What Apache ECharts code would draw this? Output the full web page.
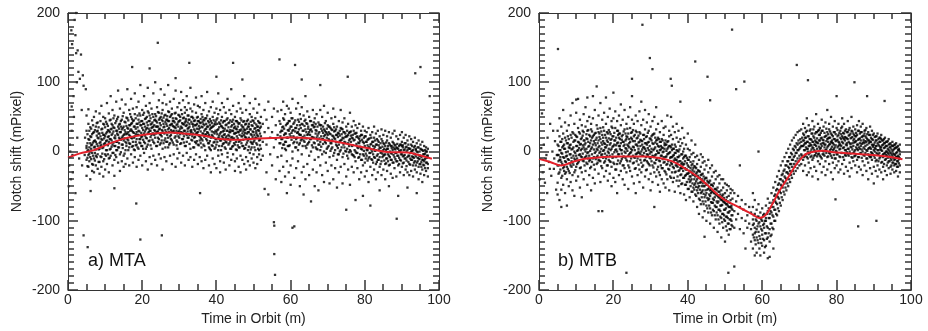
<!DOCTYPE html>
<html><head><meta charset="utf-8">
<script src="https://cdn.jsdelivr.net/npm/echarts@6/dist/echarts.min.js"></script>
<style>html,body{margin:0;padding:0;background:#fff}#c{width:928px;height:331px}</style>
</head><body><div id="c"></div>
<script>
const panelLabels = ['a) MTA', 'b) MTB'];
const xName = 'Time in Orbit (m)';
const yName = 'Notch shift (mPixel)';
const xRange = [0, 100];
const yRange = [-200, 200];
const xMajorTicks = [0, 20, 40, 60, 80, 100];
const xMinorTicks = [5, 10, 15, 25, 30, 35, 45, 50, 55, 65, 70, 75, 85, 90, 95];
const yMajorTicks = [-200, -100, 0, 100, 200];
const yMinorTicks = [-190,-180,-170,-160,-150,-140,-130,-120,-110,-90,-80,-70,-60,-50,-40,-30,-20,-10,10,20,30,40,50,60,70,80,90,110,120,130,140,150,160,170,180,190];

// red fitted curves [x, y]
const mtaFit = [[0,-9],[3,-3],[7,2],[10,9],[13,15],[16,20],[20,24],[24,26.5],[27.6,27.5],[31,26],[34,24.5],[37.5,22],[41,18],[45.5,17],[50,18.5],[55,19.5],[60,20.4],[66,19],[70,16],[73.4,13],[77,9],[80.6,5],[85,0],[88,-1],[91.4,-1.5],[95,-5.7],[98.1,-10.5]];
const mtbFit = [[0,-10.5],[3,-15],[6,-20],[9,-15],[12.3,-10.5],[16,-8.5],[21,-7],[28.4,-7],[32,-9],[34.6,-12],[37,-17],[39.1,-24],[41.5,-32],[43.6,-40.5],[46,-52],[48,-62],[50,-70],[52.1,-76],[55,-84],[57.5,-91],[59.3,-96],[61,-91],[62.8,-75],[64.6,-57],[67,-37],[69.1,-19],[71,-7],[72.2,-2.4],[74,0],[76.3,1],[79.9,-1.5],[85,-3],[89.7,-5],[94,-7.5],[97.7,-11]];

// scatter columns: [x, y1, y2, ...]
const mtaCols = [
[5.0,5,-12,30,8,-35,52],[5.5,18,-5,40,-22,2,61],[6.0,-8,22,12,-40,35,0],[6.5,10,-18,45,25,-2,-28],[7.0,28,-10,6,50,-30,15],[7.5,3,36,-20,14,58,-6],[8.0,20,-25,42,8,-4,30],[8.5,-15,12,55,26,-32,4],[9.0,32,-8,18,66,-22,10],[9.5,6,40,-14,24,-36,50],
[10.0,22,-4,48,12,-26,35],[10.5,40,2,-18,28,70,16],[11.0,-10,30,14,55,-30,22],[11.5,18,46,-6,32,4,80],[12.0,26,-20,38,10,60,-2],[12.5,8,34,-12,52,20,-35],[13.0,44,14,-8,30,72,2],[13.5,24,-16,50,6,36,88],[14.0,-4,40,18,62,28,-28],[14.5,32,10,-14,46,20,75],
[15.0,16,56,-6,36,24,-22],[15.5,42,2,28,68,-18,14],[16.0,26,-10,48,18,90,34],[16.5,6,38,60,-20,24,12],[17.0,50,20,-4,32,76,40],[17.5,14,44,-16,28,62,8],[18.0,36,-8,54,22,2,84],[18.5,28,64,10,-22,40,18],[19.0,46,4,30,72,-12,24],[19.5,18,52,-6,38,96,12],
[20.0,34,8,60,22,-20,44],[20.5,56,26,-2,40,80,14],[21.0,20,48,-14,32,66,4],[21.5,38,10,58,26,-26,92],[22.0,44,16,-8,30,70,52],[22.5,24,62,4,40,-18,34],[23.0,50,14,36,84,-6,26],[23.5,30,-12,54,20,46,100],[24.0,42,8,64,28,-20,36],[24.5,18,56,32,74,-4,46],
[25.0,38,-10,50,24,90,12],[25.5,60,30,4,44,-26,70],[26.0,26,52,-8,36,82,16],[26.5,46,14,68,28,-14,40],[27.0,32,58,6,44,96,20],[27.5,50,22,-6,38,72,12],[28.0,28,62,40,-18,54,16],[28.5,44,10,76,30,-4,36],[29.0,22,56,34,88,-22,48],[29.5,40,4,64,26,14,-10],
[30.0,52,30,-2,70,20,44],[30.5,36,12,60,-16,28,86],[31.0,18,48,26,74,-6,40],[31.5,42,8,56,30,-20,64],[32.0,24,60,38,-2,80,14],[32.5,46,20,-12,52,34,70],[33.0,30,4,62,26,92,-8],[33.5,50,16,40,-22,58,22],[34.0,20,44,6,68,32,-12],[34.5,38,-4,56,26,78,12],
[35.0,28,50,10,-18,44,66],[35.5,42,16,64,22,-8,34],[36.0,18,54,36,-14,80,6],[36.5,40,10,60,26,-24,46],[37.0,24,48,2,70,32,-12],[37.5,36,-6,52,16,86,28],[38.0,12,42,58,24,-20,6],[38.5,34,2,64,20,44,-30],[39.0,22,50,-10,36,72,8],[39.5,40,14,-18,56,26,4],
[40.0,10,46,28,-24,62,18],[40.5,32,-6,54,20,84,2],[41.0,16,40,-14,60,26,-30],[41.5,36,8,50,-4,22,70],[42.0,24,-16,44,12,64,30],[42.5,4,38,20,-26,56,14],[43.0,30,-8,48,18,76,-2],[43.5,12,42,-20,28,60,22],[44.0,36,4,54,-12,20,90],[44.5,18,46,-4,30,66,8],
[45.0,-14,26,50,10,36,-28],[45.5,32,2,58,22,-10,44],[46.0,14,40,-22,28,70,6],[46.5,30,-6,48,16,-30,62],[47.0,8,36,22,56,-12,26],[47.5,24,-18,44,4,80,32],[48.0,40,10,-8,60,20,-26],[48.5,16,46,28,-14,36,2],[49.0,32,-2,54,18,70,-20],[49.5,6,38,24,-10,50,12],
[50.0,28,-16,44,14,62,-4],[50.5,20,48,2,34,-24,76],[51.0,10,36,-8,56,24,-18],[51.5,30,-4,42,16,68,2],[52.0,22,4,50,-12,36],
[52.5,40,-6,14],[53.0,28,60,-54],[53.5,10,-30,46],[54.0,34,-62,72],[54.5,20,-4],[55.0,50,-20,28],[55.5,6,62,-102],[56.0,38,-40,18],[56.5,24,-8,58],[57.0,44,12,-28],
[57.5,30,-6,60,18,-44],[58.0,10,48,-22,36,72],[58.5,26,-36,54,4,14],[59.0,40,-14,66,20,-60],[59.5,8,44,-30,30,62],[60.0,22,-20,56,-48,36],[60.5,48,0,30,76,-10],[61.0,14,-38,42,20,-108],[61.5,34,6,62,-24,18],[62.0,2,46,-14,28,70],
[62.5,24,-50,38,12,54],[63.0,40,-4,18,64,-30],[63.5,16,52,-22,30,-62],[64.0,32,8,-40,46,80],[64.5,10,40,-18,24,58],[65.0,28,-6,50,-34,14],[65.5,44,18,-72,32,0],[66.0,20,-26,60,6,38],[66.5,36,-12,48,12,-50],[67.0,4,30,-30,54,20],
[67.5,26,-8,42,-56,10],[68.0,38,14,-20,60,2],[68.5,18,-34,30,-4,50],[69.0,32,0,-44,22,66],[69.5,12,44,-16,28,-2],[70.0,24,-28,38,6,56],[70.5,36,-8,16,-46,26],[71.0,4,32,-20,48,12],[71.5,22,-40,40,-6,62],[72.0,30,2,-24,18,50],
[72.5,8,36,-12,24,-52],[73.0,26,-4,44,10,-30],[73.5,16,-22,34,2,60],[74.0,32,-8,20,-46,42],[74.5,6,28,-18,48,14],[75.0,22,-36,36,0,-84],[75.5,12,-10,40,24,-26],[76.0,28,2,-48,18,56],[76.5,-4,20,36,-22,8],[77.0,16,-30,30,-6,44],
[77.5,26,0,-14,38,-70],[78.0,6,-24,22,34,-2],[78.5,18,-8,40,-40,12],[79.0,-12,24,4,30,-30],[79.5,14,-4,36,-20,-64],[80.0,22,-16,8,30,-36],[80.5,2,28,-28,14,-6],[81.0,18,-10,34,-44,6],[81.5,-2,24,-22,10,-78],[82.0,14,-34,28,0,-12],
[82.5,-8,20,4,-26,36],[83.0,10,-18,26,-40,2],[83.5,-4,16,-30,30,-12],[84.0,6,-22,22,-8,-56],[84.5,18,-14,0,32,-34],[85.0,-6,12,-26,24,2],[85.5,8,-18,30,-40,-4],[86.0,-10,16,4,-28,22],[86.5,12,-6,28,-20,-50],[87.0,-2,20,-32,8,-12],
[87.5,14,-16,2,26,-38],[88.0,-8,10,-24,30,4],[88.5,6,-14,22,-36,-2],[89.0,-6,18,-20,4,-64],[89.5,10,-30,0,24,-12],[90.0,-4,14,-22,8,28],[90.5,2,-16,20,-34,-6],[91.0,12,-26,6,-10,24],[91.5,-8,16,-30,2,-52],[92.0,4,-18,22,-6,-34],
[92.5,-12,10,-28,18,0],[93.0,2,-20,14,-36,-8],[93.5,-14,8,-26,20,-4],[94.0,0,-30,12,-16,-60],[94.5,-10,6,-22,16,-40],[95.0,4,-18,-32,10,-6],[95.5,-12,2,-26,14,-44],[96.0,-4,-20,8,-34,-14],[96.5,-16,0,-28,6,-8],[97.0,-6,-24,4,-36,-18]
];
// dense core of the MTA cloud
const mtaCore = [
[5.25,12,-9,25,1,-21],[5.75,-3,17,30,-14,6],[6.25,21,4,-11,33,9],[6.75,-6,27,13,-19,38],[7.25,16,-2,31,7,-13],[7.75,29,11,-8,23,41],[8.25,3,35,19,-15,26],[8.75,22,-7,14,44,8],[9.25,33,17,-3,27,5],[9.75,11,39,24,-11,19],
[10.25,26,2,43,15,-6],[10.75,37,21,9,-4,31],[11.25,18,45,28,3,-9],[11.75,7,24,40,16,33],[12.25,35,13,-2,29,48],[12.75,23,41,8,19,-5],[13.25,14,30,47,2,26],[13.75,39,20,6,33,12],[14.25,28,-1,44,17,36],[14.75,10,34,22,51,5],
[15.25,43,19,31,-3,25],[15.75,25,49,12,37,8],[16.25,16,33,2,45,28],[16.75,38,22,54,11,30],[17.25,30,7,41,19,47],[17.75,20,45,27,3,36],[18.25,48,14,33,25,9],[18.75,35,24,52,6,40],[19.25,13,42,29,18,55],[19.75,44,27,8,38,21],
[20.25,31,53,17,40,4],[20.75,23,36,47,12,29],[21.25,50,19,34,7,42],[21.75,28,44,15,56,33],[22.25,39,9,30,48,21],[22.75,17,42,26,54,35],[23.25,45,31,12,38,24],[23.75,26,51,36,8,44],[24.25,36,20,57,29,14],[24.75,48,33,10,41,25],
[25.25,22,46,31,55,16],[25.75,40,27,49,12,35],[26.25,31,53,19,43,6],[26.75,51,24,37,14,46],[27.25,34,10,44,28,57],[27.75,18,39,52,31,24],[28.25,44,29,13,48,37],[28.75,27,55,35,20,42],[29.25,38,16,47,30,9],[29.75,53,36,22,43,28],
[30.25,25,45,33,11,50],[30.75,41,18,54,34,27],[31.25,30,49,13,39,22],[31.75,47,26,37,8,44],[32.25,20,42,29,52,33],[32.75,36,11,46,24,40],[33.25,43,31,17,50,28],[33.75,26,48,36,6,39],[34.25,38,21,45,30,14],[34.75,15,40,27,49,33],
[35.25,44,32,9,37,23],[35.75,29,47,20,41,12],[36.25,35,16,43,26,50],[36.75,21,38,30,8,45],[37.25,40,25,48,18,33],[37.75,12,36,27,44,22],[38.25,32,47,15,38,4],[38.75,24,9,41,29,35],[39.25,37,20,45,13,28],[39.75,18,39,30,6,43],
[40.25,31,14,40,25,48],[40.75,42,23,8,35,19],[41.25,16,37,28,45,2],[41.75,34,20,42,11,29],[42.25,25,44,6,33,17],[42.75,39,13,30,22,46],[43.25,10,35,24,41,18],[43.75,31,45,15,28,4],[44.25,21,7,38,30,43],[44.75,40,26,12,34,19],
[45.25,14,33,44,3,27],[45.75,36,19,28,42,9],[46.25,24,41,6,31,16],[46.75,32,12,38,22,45],[47.25,8,29,43,17,35],[47.75,39,21,27,5,31],[48.25,18,44,33,13,26],[48.75,28,7,40,36,20],[49.25,43,25,14,32,3],[49.75,21,37,29,45,11],
[50.25,33,16,41,24,6],[50.75,12,30,20,39,27],[51.25,36,22,4,31,44],[51.75,26,41,17,9,34],
[57.25,28,12,40,22],[57.75,18,35,5,30],[58.25,33,24,46,10],[58.75,14,38,26,2],[59.25,41,20,31,8],[59.75,25,9,44,33],[60.25,36,17,27,48],[60.75,12,31,40,22],[61.25,29,45,6,34],[61.75,20,38,27,13],
[62.25,43,25,10,32],[62.75,16,34,24,47],[63.25,30,8,39,21],[63.75,37,23,14,44],[64.25,19,41,28,5],[64.75,33,12,36,25],[65.25,24,44,18,31],[65.75,9,29,38,21],[66.25,35,20,42,13],[66.75,26,6,31,40],
[67.25,16,36,23,3],[67.75,39,19,28,10],[68.25,22,33,7,38],[68.75,11,27,36,18],[69.25,30,14,24,41],[69.75,20,33,4,26],[70.25,8,28,18,36],[70.75,25,12,34,1],[71.25,17,31,6,23],[71.75,29,-2,20,35],
[72.25,10,24,32,14],[72.75,21,5,27,-4],[73.25,30,15,0,23],[73.75,6,25,17,33],[74.25,19,-3,28,10],[74.75,26,13,1,21],[75.25,4,22,30,-6],[75.75,16,27,8,-1],[76.25,23,0,14,29],[76.75,9,19,-5,24],
[77.25,17,2,26,-8],[77.75,-2,21,11,27],[78.25,13,-9,20,5],[78.75,22,7,-4,15],[79.25,3,17,-12,24],[79.75,12,-6,20,1],[80.25,-3,14,22,-10],[80.75,17,2,-13,9],[81.25,6,-8,19,-2],[81.75,-11,11,3,20],
[82.25,14,-4,8,-16],[82.75,1,16,-9,7],[83.25,-6,10,-15,18],[83.75,9,-12,3,14],[84.25,-2,12,-18,5],[84.75,7,-8,15,-3],[85.25,-13,4,-5,11],[85.75,2,-10,13,-17],[86.25,8,-4,-14,4],[86.75,-8,10,0,-19],
[87.25,5,-12,8,-3],[87.75,-5,6,-16,12],[88.25,9,-2,-11,3],[88.75,-14,5,-6,11],[89.25,1,-9,8,-18],[89.75,-4,10,-13,2],[90.25,6,-7,-17,9],[90.75,-10,3,12,-5],[91.25,0,-13,7,-21],[91.75,-6,5,-15,10],
[92.25,4,-10,-2,-19],[92.75,-12,1,8,-7],[93.25,-3,-16,6,-9],[93.75,2,-7,-20,4],[94.25,-9,-1,-14,6],[94.75,0,-18,-6,-11],[95.25,-8,3,-15,-22],[95.75,-4,-12,1,-19],[96.25,-11,-3,-24,2],[96.75,-6,-16,0,-9]
];
const mtaExtra = [[0.3,-20],[0.5,10],[0.8,-40],[1.0,30],[1.2,-5],[1.5,80],[1.8,190],[2.0,168],[2.2,142],[2.4,100],[2.6,146],[2.8,115],[2.2,200],[3.2,105],[3.5,140],[3.7,60],[4.0,110],[4.2,95],[4.5,-5],[1.3,-30],[0.6,0],[2.0,-60],[2.5,20],[3.0,-10],[3.8,-20],[4.6,20],[0.2,-50],[1.0,65],[1.6,50],[4.8,90],[0.9,175],[1.1,155],
[4.2,-121],[5.3,-138],[18.4,-75],[19.5,-127],[25.3,-121],[24.2,157],[35.6,-60],[55.6,-107],[55.6,-148],[55.8,-178],[60.5,-110],[57,133],[61.2,125],[75.4,108],[93.6,113],[95,122],[88.6,-97],[97.5,80],[32.7,128],[44.5,128],[17.3,122],[22,120],[12.5,-53],[6.1,-57],[47,104],[63,104],[68,96],[40,108],[29,106]];

const mtbCols = [
[5.0,-20,10,-45,-5,30,-62],[5.5,2,-30,22,-12,-70,48],[6.0,-15,14,-38,-2,36,-55],[6.5,8,-24,-48,26,-8,60],[7.0,-32,4,20,-14,-60,42],[7.5,-6,30,-40,12,-22,-78],[8.0,18,-12,-50,6,38,-28],[8.5,-20,24,-4,-44,52,10],[9.0,4,-34,28,-16,70,-56],[9.5,-10,16,40,-30,0,-64],
[10.0,22,-6,-42,8,56,-22],[10.5,-16,34,2,-36,14,76],[11.0,10,-24,46,-4,-52,26],[11.5,-8,20,-30,38,4,-66],[12.0,28,-14,6,54,-40,16],[12.5,0,-28,36,12,-8,64],[13.0,18,-18,44,-2,-48,30],[13.5,-6,24,-34,8,50,-14],[14.0,32,4,-22,16,-56,40],[14.5,10,-10,48,-38,22,80],
[15.0,-2,26,-26,12,60,-46],[15.5,20,-8,38,-18,4,94],[16.0,6,-32,28,-12,52,16],[16.5,-14,18,-44,34,0,70],[17.0,24,-4,46,-24,10,-86],[17.5,2,30,-16,56,-36,12],[18.0,-10,20,-28,40,6,78],[18.5,14,-20,50,0,-42,26],[19.0,28,-6,10,-32,62,-14],[19.5,4,36,-22,18,-50,44],
[20.0,-8,22,48,-16,8,-38],[20.5,16,-26,2,34,-44,58],[21.0,30,0,-18,44,12,-60],[21.5,-4,20,-34,8,52,26],[22.0,12,-14,38,-28,2,68],[22.5,24,-8,-40,14,46,-20],[23.0,0,32,-24,10,60,-48],[23.5,18,-12,40,-30,4,22],[24.0,-6,26,-20,50,8,-54],[24.5,14,-28,34,-2,64,-14],
[25.0,28,2,-36,18,46,80],[25.5,-8,22,-16,40,6,-46],[26.0,10,-24,52,-4,30,-60],[26.5,20,-10,-34,8,44,-2],[27.0,-2,28,14,-26,58,-44],[27.5,16,-16,38,0,-30,72],[28.0,6,24,-20,46,-6,-52],[28.5,-12,12,32,-36,4,60],[29.0,22,-4,-26,42,10,-14],[29.5,2,30,-18,-40,54,14],
[30.0,-10,18,-32,36,0,-56],[30.5,12,-20,44,-6,24,-44],[31.0,26,-8,4,-30,50,-16],[31.5,-4,16,-36,32,-12,64],[32.0,8,-22,40,-2,-48,20],[32.5,-14,14,28,-34,2,-58],[33.0,18,-6,-24,44,6,-40],[33.5,0,24,-16,-46,34,-8],[34.0,-8,10,-30,36,-52,16],[34.5,14,-18,4,-40,52,-4],
[35.0,-2,22,-26,8,-56,30],[35.5,-16,6,-38,24,-8,50],[36.0,4,-22,18,-44,-6,36],[36.5,-10,10,-30,28,-58,-2],[37.0,-20,2,-42,20,-12,40],[37.5,0,-28,14,-50,-8,30],[38.0,-14,8,-34,-60,18,-24],[38.5,-4,-24,12,-46,-16,34],[39.0,-18,4,-38,-62,-8,20],[39.5,-26,-6,-48,10,-34,-70],
[40.0,-12,-32,4,-54,-20,26],[40.5,-28,-8,-44,-66,2,-36],[41.0,-20,-40,-4,-58,-30,16],[41.5,-34,-14,-52,-2,-72,-24],[42.0,-22,-46,-8,-62,-36,10],[42.5,-40,-18,-56,-30,-80,-6],[43.0,-28,-50,-12,-68,-38,-90],[43.5,-44,-22,-60,-34,-4,-76],[44.0,-32,-56,-16,-72,-46,-8],[44.5,-50,-26,-66,-40,-86,-14],
[45.0,-38,-60,-20,-78,-48,-100],[45.5,-54,-30,-70,-44,-12,-88],[46.0,-42,-64,-24,-82,-56,-104],[46.5,-58,-36,-74,-48,-92,-20],[47.0,-46,-70,-30,-86,-60,-110],[47.5,-62,-40,-80,-54,-98,-28],[48.0,-52,-74,-36,-92,-64,-116],[48.5,-66,-46,-84,-58,-104,-34],[49.0,-56,-78,-40,-96,-70,-124],[49.5,-72,-52,-90,-62,-110,-40],
[50.0,-60,-84,-46,-100,-74,-130],[50.5,-76,-56,-94,-66,-114,-48],[51.0,-64,-88,-50,-104,-80,-120],[51.5,-80,-60,-98,-70,-112,-54],[52.0,-68,-92,-56,-108,-84],
[52.5,-86,-60,-110],[53.0,-72,-98],[53.5,-90,-64],[54.0,-80,-112,-20],[54.5,-96,-70],[55.0,-84,-118],[55.5,-76,-100,-140],[56.0,-92,-110],[56.5,-104,-80],[57.0,-112,-88,-130],
[57.5,-98,-120,-80,-140,-106],[58.0,-110,-90,-128,-70,-118],[58.5,-100,-124,-84,-146,-112],[59.0,-116,-94,-132,-76,-104],[59.5,-108,-126,-88,-150,-96],[60.0,-120,-100,-136,-82,-114],[60.5,-104,-128,-90,-146,-110],[61.0,-96,-118,-78,-136,-100],[61.5,-110,-86,-124,-68,-154],[62.0,-90,-112,-74,-130,-96],
[62.5,-80,-104,-60,-120,-88],[63.0,-70,-94,-52,-112,-80],[63.5,-62,-84,-44,-100,-72],[64.0,-54,-76,-36,-92,-64],[64.5,-46,-68,-28,-86,-56],[65.0,-40,-60,-20,-78,-48],[65.5,-32,-52,-14,-70,-42],[66.0,-26,-46,-8,-62,-36],[66.5,-20,-40,-2,-56,-30],[67.0,-14,-32,4,-50,-22],
[67.5,-8,-28,10,-44,-18],[68.0,-4,-22,16,-38,-12],[68.5,2,-18,20,-32,-8],[69.0,6,-14,24,-28,-2],[69.5,10,-10,28,-24,2],[70.0,12,-6,30,-20,4],[70.5,14,-4,32,-18,8],
[71.0,8,-12,26,-28,16,40],[71.5,2,20,-20,34,-6,12],[72.0,14,-8,30,-34,4,48],[72.5,-4,22,-16,8,38,-30],[73.0,18,0,-24,32,10,-8],[73.5,6,26,-12,44,-36,14],[74.0,20,-6,36,2,-22,10],[74.5,-2,14,-28,28,8,54],[75.0,12,-14,30,-4,40,-40],[75.5,24,4,-18,16,-6,34],
[76.0,8,30,-10,20,-30,46],[76.5,16,-4,36,0,-22,12],[77.0,2,22,-14,42,10,-34],[77.5,18,-8,28,6,-26,60],[78.0,10,32,-2,-18,20,40],[78.5,-6,14,26,-30,4,50],[79.0,22,2,-16,36,12,-40],[79.5,6,28,-10,18,-24,44],[80.0,16,-4,34,0,-20,80],[80.5,24,8,-14,40,-30,14],
[81.0,4,20,-8,30,-26,10],[81.5,14,-2,36,-18,22,48],[82.0,26,6,-12,18,-32,40],[82.5,10,32,-6,20,-22,2],[83.0,18,-4,28,4,-28,44],[83.5,0,24,12,-16,34,-36],[84.0,20,-8,30,6,-24,50],[84.5,8,26,-14,16,36,-2],[85.0,14,-6,32,-20,22,2],[85.5,24,4,-12,38,-30,10],
[86.0,6,18,-8,30,-22,44],[86.5,16,-2,28,-26,8,36],[87.0,0,22,-14,12,40,-34],[87.5,12,-6,26,-20,4,30],[88.0,20,-10,34,2,-28,14],[88.5,4,16,-16,28,-4,-40],[89.0,14,-8,24,-24,36,6],[89.5,-2,18,-12,10,-32,30],[90.0,10,-6,26,-22,2,-46],[90.5,16,-14,4,22,-28,8],
[91.0,-4,12,-20,26,2,-36],[91.5,8,-10,20,-26,14,-2],[92.0,2,-16,18,-30,6,24],[92.5,-8,10,-22,16,-4,-40],[93.0,6,-12,20,-28,-2,12],[93.5,-6,8,-20,14,-34,0],[94.0,2,-14,18,-24,-4,10],[94.5,-10,6,-22,12,-32,-2],[95.0,0,-16,14,-26,-6,8],[95.5,-12,4,-20,10,-30,-4],
[96.0,-2,-18,12,-28,-8,6],[96.5,-14,2,-22,8,-36,-6],[97.0,-4,-20,10,-30,-10,0]
];
// dense core of the MTB cloud
const mtbCore = [
[5.25,-5,-20,8,-14,-32],[5.75,-12,2,-26,14,-8],[6.25,6,-18,-3,-35,18],[6.75,-22,10,-9,-28,4],[7.25,-1,-15,16,-30,-7],[7.75,12,-25,0,-11,22],[8.25,-17,5,-31,9,-4],[8.75,3,-9,20,-22,-14],[9.25,-6,14,-19,6,26],[9.75,16,-2,-12,24,-27],
[10.25,-10,8,21,-18,1],[10.75,5,-14,13,28,-5],[11.25,18,-7,2,-23,11],[11.75,-3,23,9,-13,30],[12.25,10,-20,16,3,-9],[12.75,25,4,-6,19,-16],[13.25,-1,14,31,-10,7],[13.75,12,-12,22,1,-24],[14.25,20,6,-4,29,-15],[14.75,-8,15,3,24,-19],
[15.25,9,27,-11,17,0],[15.75,2,-16,12,33,-6],[16.25,21,-2,8,-13,26],[16.75,-5,13,29,4,-21],[17.25,15,-9,20,1,35],[17.75,6,24,-14,11,-3],[18.25,28,-6,16,-20,9],[18.75,-2,19,4,31,-12],[19.25,12,-15,25,2,17],[19.75,22,7,-9,34,-4],
[20.25,-1,16,27,-18,10],[20.75,9,-8,20,3,-26],[21.25,24,13,-4,30,-13],[21.75,4,-17,18,8,26],[22.25,17,-3,-11,22,2],[22.75,-7,14,29,-20,8],[23.25,26,5,-9,16,-2],[23.75,10,-14,21,1,33],[24.25,-4,18,6,-23,12],[24.75,20,-1,27,-10,4],
[25.25,7,31,-6,15,-17],[25.75,15,-9,2,24,-25],[26.25,-3,19,10,-14,28],[26.75,23,4,-19,13,0],[27.25,8,-12,26,-4,17],[27.75,-6,15,3,-22,10],[28.25,18,-2,24,-13,6],[28.75,1,21,-8,12,-27],[29.25,13,-16,5,27,-5],[29.75,-9,8,19,-3,-20],
[30.25,16,-1,-14,22,4],[30.75,2,-23,11,-7,25],[31.25,-5,13,-17,6,20],[31.75,11,-10,1,-26,17],[32.25,-2,18,-13,7,-30],[32.75,8,-20,14,-6,3],[33.25,-11,5,-24,16,-1],[33.75,4,-15,12,-28,9],[34.25,-7,10,-19,1,-33],[34.75,-14,6,-3,-25,15],
[35.25,-1,-20,8,-9,-36],[35.75,-18,2,-30,10,-8],[36.25,-5,-24,4,-13,-38],[36.75,-12,-2,-29,7,-20],[37.25,-22,-8,-36,1,-15],[37.75,-6,-27,-14,-42,3],[38.25,-18,-33,-4,-24,-47],[38.75,-28,-10,-38,-19,0],[39.25,-14,-35,-24,-48,-6],[39.75,-32,-17,-44,-26,-9],
[40.25,-22,-40,-12,-31,-54],[40.75,-36,-24,-50,-15,-42],[41.25,-27,-46,-33,-18,-58],[41.75,-40,-29,-55,-21,-48],[42.25,-32,-51,-24,-43,-64],[42.75,-46,-35,-60,-27,-52],[43.25,-38,-55,-45,-29,-70],[43.75,-50,-40,-66,-33,-58],[44.25,-43,-61,-50,-36,-76],[44.75,-56,-46,-72,-38,-63],
[45.25,-48,-67,-55,-42,-82],[45.75,-62,-52,-78,-45,-68],[46.25,-55,-73,-60,-48,-88],[46.75,-68,-57,-84,-50,-74],[47.25,-60,-78,-66,-54,-92],[47.75,-72,-62,-88,-56,-80],[48.25,-66,-84,-72,-58,-98],[48.75,-78,-68,-94,-62,-86],[49.25,-70,-90,-77,-64,-102],[49.75,-84,-73,-98,-67,-92],
[50.25,-76,-94,-82,-70,-108],[50.75,-88,-78,-104,-72,-96],[51.25,-80,-98,-86,-74,-112],[51.75,-92,-82,-106,-78,-100],
[57.75,-104,-124,-92],[58.25,-116,-98,-134],[58.75,-108,-128,-94],[59.25,-122,-102,-140],[59.75,-112,-132,-98],[60.25,-106,-126,-92],[60.75,-118,-100,-138],[61.25,-108,-90,-126],[61.75,-96,-118,-82],[62.25,-104,-86,-122],
[62.75,-92,-74,-110],[63.25,-84,-64,-100],[63.75,-74,-56,-90],[64.25,-66,-48,-82],[64.75,-58,-40,-74],[65.25,-50,-34,-66],[65.75,-44,-28,-58],[66.25,-38,-20,-52],[66.75,-30,-14,-46],[67.25,-24,-8,-40],
[67.75,-18,-2,-34],[68.25,-12,4,-28],[68.75,-6,8,-22],[69.25,-2,12,-18],[69.75,2,16,-14],[70.25,6,18,-10],[70.75,8,20,-6],
[71.25,2,16,-8,24,10],[71.75,12,-4,20,6,28],[72.25,4,22,-10,14,0],[72.75,18,8,30,-2,12],[73.25,9,-6,17,26,3],[73.75,22,5,-9,14,32],[74.25,0,16,10,26,-5],[74.75,13,28,4,-7,19],[75.25,24,7,-3,16,31],[75.75,5,19,27,-8,11],
[76.25,17,1,12,30,-4],[76.75,27,10,-6,21,6],[77.25,3,23,15,-2,33],[77.75,14,-7,25,8,19],[78.25,29,11,2,20,-3],[78.75,7,24,16,-9,13],[79.25,18,4,28,-5,10],[79.75,1,15,9,25,-10],[80.25,22,6,-4,17,31],[80.75,10,27,13,-7,3],
[81.25,25,-2,18,8,34],[81.75,5,20,-8,12,27],[82.25,16,30,2,-5,21],[82.75,28,9,19,-1,12],[83.25,4,23,-6,14,31],[83.75,19,7,26,-3,11],[84.25,12,-9,21,3,29],[84.75,24,13,0,18,-7],[85.25,6,27,15,-4,22],[85.75,17,2,30,10,-8],
[86.25,26,12,-3,19,4],[86.75,3,21,11,-9,28],[87.25,14,-5,23,6,17],[87.75,22,8,-2,15,31],[88.25,1,18,10,-10,25],[88.75,12,-6,24,5,16],[89.25,20,4,-8,14,-1],[89.75,7,17,-4,24,9],[90.25,13,-9,5,21,0],[90.75,-2,16,8,-12,22],
[91.25,10,-5,18,2,-14],[91.75,3,14,-8,20,6],[92.25,-6,9,-15,16,1],[92.75,12,-3,5,-18,18],[93.25,0,8,-11,14,-5],[93.75,-9,4,15,-2,-16],[94.25,6,-7,11,-14,0],[94.75,-4,9,-12,3,-20],[95.25,2,-9,8,-16,-3],[95.75,-11,5,-5,10,-18],
[96.25,-1,-14,6,-8,-22],[96.75,-8,2,-17,4,-11]
];
const mtbExtra = [[0.3,-20],[0.6,5],[1.0,-30],[1.3,10],[1.6,-45],[2.0,-5],[2.3,20],[2.7,-15],[3.0,40],[3.3,-35],[3.6,0],[4.0,-25],[4.3,15],[4.6,-55],[0.8,55],[2.2,-60],[3.8,30],[1.8,-10],[4.8,-5],[0.2,-40],[2.9,-25],[4.1,-10],
[5.1,148],[27.8,183],[51.9,176],[29.8,135],[30.5,119],[35.4,105],[35.7,95],[42,130],[45.3,108],[55.2,101],[53,90],[69.3,125],[72.3,103],[84.8,100],[88.2,80],[92.9,73],[90.7,-100],[85.8,-108],[79.7,-69],[23.5,-175],[50.9,-175],[52.5,-166],[25,105],[13,78],[10,75],[38,72],[46,74],[20,85],[16,-86],[6,-80],[31,-80],[58,-150],[44,-95],[44.5,-123],[59,0],[57.5,-60],[62,-152],[63,-140]];

function expand(lists, extra) {
  const out = [];
  lists.forEach(cols => cols.forEach(c => { for (let i = 1; i < c.length; i++) out.push([c[0], c[i]]); }));
  extra.forEach(p => out.push(p));
  return out;
}

const FONT = '"Liberation Sans", Arial, Helvetica, sans-serif';
const AX = '#333';
const MAJOR_PX = 10, MINOR_PX = 6;

const grids = [
  {left: 68, top: 13, width: 371, height: 280},
  {left: 539, top: 13, width: 372, height: 280}
];
const xAxes = [], yAxes = [];
grids.forEach((g, i) => {
  const common = {gridIndex: i, type: 'value', min: xRange[0], max: xRange[1], interval: 20,
    axisLine: {show: true, onZero: false, lineStyle: {color: AX, width: 1}},
    axisTick: {show: false}, splitLine: {show: false}};
  xAxes.push(Object.assign({}, common, {position: 'bottom',
    name: xName, nameLocation: 'middle', nameGap: 18,
    nameTextStyle: {fontFamily: FONT, fontSize: 14, color: '#222'},
    axisLabel: {show: true, fontFamily: FONT, fontSize: 14, color: '#222', margin: 3}}));
  xAxes.push(Object.assign({}, common, {position: 'top', axisLabel: {show: false}}));
  const cy = {gridIndex: i, type: 'value', min: yRange[0], max: yRange[1], interval: 100,
    axisLine: {show: true, onZero: false, lineStyle: {color: AX, width: 1}},
    axisTick: {show: false}, splitLine: {show: false}};
  yAxes.push(Object.assign({}, cy, {position: 'left',
    name: yName, nameLocation: 'middle', nameGap: 44, nameRotate: 90,
    nameTextStyle: {fontFamily: FONT, fontSize: 14, color: '#222'},
    axisLabel: {show: true, fontFamily: FONT, fontSize: 14, color: '#222', margin: 8}}));
  yAxes.push(Object.assign({}, cy, {position: 'right', axisLabel: {show: false}}));
});

const series = [];
[[[mtaCols, mtaCore], mtaExtra, mtaFit], [[mtbCols, mtbCore], mtbExtra, mtbFit]].forEach((d, i) => {
  series.push({type: 'scatter', xAxisIndex: i * 2, yAxisIndex: i * 2,
    data: expand(d[0], d[1]), symbol: 'rect', symbolSize: 2.3,
    itemStyle: {color: '#000'}, silent: true, z: 2});
  series.push({type: 'line', xAxisIndex: i * 2, yAxisIndex: i * 2,
    data: d[2], smooth: 0.4, showSymbol: false, symbol: 'none',
    lineStyle: {color: '#e3202a', width: 2}, z: 3, silent: true});
});

const labelGraphics = [
  {type: 'text', left: 88, top: 252, style: {text: panelLabels[0], font: '18px ' + FONT, fill: '#111'}},
  {type: 'text', left: 558, top: 252, style: {text: panelLabels[1], font: '18px ' + FONT, fill: '#111'}}
];

const chart = echarts.init(document.getElementById('c'), null, {renderer: 'canvas'});
chart.setOption({
  animation: false,
  backgroundColor: '#fff',
  grid: grids,
  xAxis: xAxes,
  yAxis: yAxes,
  series: series,
  graphic: labelGraphics
});

// frame ticks as rectangles, placed through the grids' own scales
function tickGraphics() {
  const out = [];
  const st = {fill: AX};
  [0, 1].forEach(gi => {
    const f = {gridIndex: gi};
    const pMin = chart.convertToPixel(f, [xRange[0], yRange[0]]);
    const pMax = chart.convertToPixel(f, [xRange[1], yRange[1]]);
    const left = Math.round(pMin[0]), right = Math.round(pMax[0]);
    const bottom = Math.round(pMin[1]), top = Math.round(pMax[1]);
    const addX = (v, len) => {
      const px = Math.round(chart.convertToPixel(f, [v, yRange[0]])[0]);
      out.push({type: 'rect', silent: true, z: 50, shape: {x: px - 0.75, y: bottom - len, width: 1.5, height: len}, style: st});
      out.push({type: 'rect', silent: true, z: 50, shape: {x: px - 0.75, y: top, width: 1.5, height: len}, style: st});
    };
    const addY = (v, len) => {
      const py = Math.round(chart.convertToPixel(f, [xRange[0], v])[1]);
      out.push({type: 'rect', silent: true, z: 50, shape: {x: left, y: py - 0.75, width: len, height: 1.5}, style: st});
      out.push({type: 'rect', silent: true, z: 50, shape: {x: right - len, y: py - 0.75, width: len, height: 1.5}, style: st});
    };
    xMajorTicks.forEach(v => addX(v, MAJOR_PX));
    xMinorTicks.forEach(v => addX(v, MINOR_PX));
    yMajorTicks.forEach(v => addY(v, MAJOR_PX));
    yMinorTicks.forEach(v => addY(v, MINOR_PX));
  });
  return out;
}
chart.setOption({graphic: labelGraphics.concat(tickGraphics())});
</script>
</body></html>
